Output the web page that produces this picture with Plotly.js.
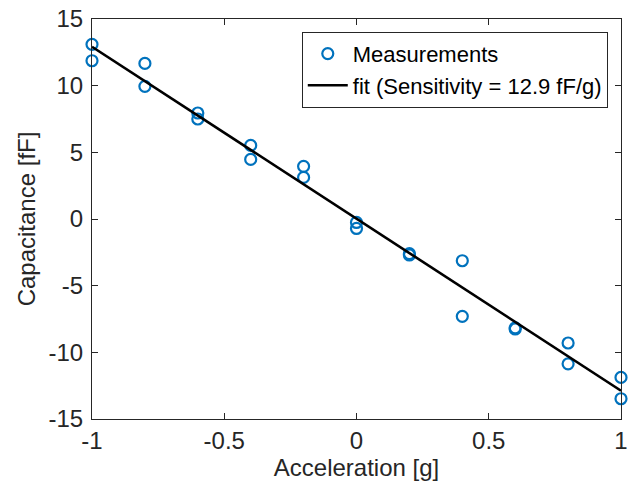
<!DOCTYPE html>
<html>
<head>
<meta charset="utf-8">
<script src="https://cdn.plot.ly/plotly-3.0.1.min.js"></script>
<style>html,body{margin:0;padding:0;background:#fff;}#chart{width:630px;height:492px;}</style>
</head>
<body>
<div id="chart"></div>
<script>
// Data
var acceleration = [-1, -1, -0.8, -0.8, -0.6, -0.6, -0.4, -0.4, -0.2, -0.2, 0, 0, 0.2, 0.2, 0.4, 0.4, 0.6, 0.6, 0.8, 0.8, 1, 1];
var capacitance = [13.1, 11.87, 11.67, 9.95, 7.95, 7.5, 5.52, 4.47, 3.95, 3.12, -0.26, -0.71, -2.6, -2.7, -3.13, -7.3, -8.16, -8.25, -9.3, -10.86, -11.88, -13.48];
var seriesNames = ["Measurements", "fit (Sensitivity = 12.9 fF/g)"];
var xTicks = [-1, -0.5, 0, 0.5, 1];
var yTicks = [-15, -10, -5, 0, 5, 10, 15];

// Least-squares fit from the data
var n = acceleration.length, mx = 0, my = 0;
for (var i = 0; i < n; i++) { mx += acceleration[i]; my += capacitance[i]; }
mx /= n; my /= n;
var sxy = 0, sxx = 0;
for (var i = 0; i < n; i++) { sxy += (acceleration[i]-mx)*(capacitance[i]-my); sxx += (acceleration[i]-mx)*(acceleration[i]-mx); }
var slope = sxy / sxx, intercept = my - slope * mx;
var fitX = [Math.min.apply(null, acceleration), Math.max.apply(null, acceleration)];
var fitY = fitX.map(function (x) { return intercept + slope * x; });

var font = "Arial, 'Liberation Sans', sans-serif";
var axColor = "#262626";

var traces = [
  {x: acceleration, y: capacitance, mode: "markers", type: "scatter", name: seriesNames[0],
   marker: {symbol: "circle-open", size: 11, color: "#0072BD", line: {width: 2.2, color: "#0072BD"}}, cliponaxis: false},
  {x: fitX, y: fitY, mode: "lines", type: "scatter", name: seriesNames[1],
   line: {color: "#000000", width: 2.6}}
];

var axisCommon = {
  showgrid: false, zeroline: false, showline: true, mirror: "ticks", linecolor: axColor, linewidth: 1,
  ticks: "inside", ticklen: 6, tickcolor: axColor, tickwidth: 1,
  tickfont: {family: font, size: 24, color: axColor}
};

var layout = {
  width: 630, height: 492,
  margin: {l: 92, r: 9, t: 19, b: 73},
  paper_bgcolor: "#ffffff", plot_bgcolor: "#ffffff",
  font: {family: font, color: axColor},
  showlegend: true,
  xaxis: Object.assign({}, axisCommon, {range: [-1, 1], tickvals: xTicks, ticktext: xTicks.map(String),
    title: {text: "Acceleration [g]", font: {family: font, size: 24, color: axColor}, standoff: 4}}),
  yaxis: Object.assign({}, axisCommon, {range: [-15, 15], tickvals: yTicks, ticktext: yTicks.map(String),
    ticklabelstandoff: 3,
    title: {text: "Capacitance [fF]", font: {family: font, size: 24, color: axColor}, standoff: 6}}),
  legend: {x: 0.975, y: 0.968, xanchor: "right", yanchor: "top", bgcolor: "#ffffff",
    bordercolor: axColor, borderwidth: 1, font: {family: font, size: 22, color: "#000000"},
    tracegroupgap: 0, itemwidth: 40}
};

Plotly.newPlot("chart", traces, layout, {staticPlot: true, displayModeBar: false});
</script>
</body>
</html>
